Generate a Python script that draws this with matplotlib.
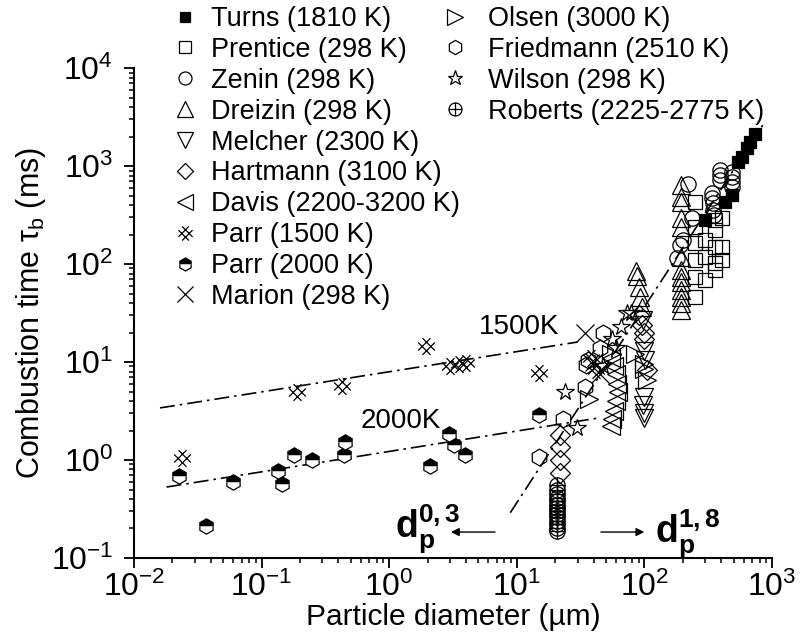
import numpy as np
import matplotlib
matplotlib.use("Agg")
import matplotlib.pyplot as plt
from matplotlib.path import Path
from matplotlib.lines import Line2D

plt.rcParams["font.family"] = ["Liberation Sans", "DejaVu Sans"]
plt.rcParams["mathtext.fontset"] = "custom"
plt.rcParams["mathtext.rm"] = "Liberation Sans"
plt.rcParams["mathtext.it"] = "Liberation Sans:italic"
plt.rcParams["mathtext.bf"] = "Liberation Sans:bold"

# ---- data (diameter in um, time in ms) ----
turns_d = [298, 428, 487, 541, 582, 637, 673, 736]
turns_t = [281, 429, 506, 1100, 1236, 1530, 1760, 2120]

prentice_d = [250, 250, 250, 250, 250, 250, 298, 298, 298, 355, 355, 355, 360, 360, 405, 405, 405]
prentice_t = [430, 240, 162, 110, 74, 46, 174, 117, 69, 282, 224, 148, 102, 87, 295, 148, 110]

zenin_d = [218, 235, 200, 190, 180, 340, 340, 345, 345, 350, 390, 390, 390, 490, 490, 490, 490]
zenin_t = [650, 295, 174, 155, 115, 525, 470, 420, 355, 316, 910, 810, 720, 870, 780, 690, 615]

dreizin_d = [195, 195, 195, 195, 195, 195, 195, 195, 195, 195, 195, 195, 195, 86, 88, 90, 92, 95]
dreizin_t = [646, 479, 427, 295, 240, 117, 87, 74, 65, 54, 46, 40, 34, 85, 75, 58, 46, 36]

melcher_d = [98, 100, 102, 100, 98, 100, 100]
melcher_t = [27, 13, 10.5, 4.4, 3.6, 3.0, 2.7]

hartmann_d = [22, 22, 22, 22, 90, 95, 100, 100, 105]
hartmann_t = [1.8, 1.36, 1.0, 0.74, 30, 24, 20, 17, 8.3]

davis_d = [55, 58, 60, 61, 62, 60, 58, 56, 55]
davis_t = [11, 9, 7.6, 6, 5, 4, 3.2, 2.6, 2.2]

parr1500_d = [0.024, 0.19, 0.43, 1.95, 3.0, 3.5, 4.0, 15, 38, 42]
parr1500_t = [1.05, 4.9, 5.7, 14.5, 9.2, 9.5, 9.8, 7.7, 11, 8.3]

parr2000_d = [0.0225, 0.037, 0.06, 0.135, 0.145, 0.18, 0.25, 0.44, 0.45, 2.1, 2.95, 3.2, 3.9, 15]
parr2000_t = [0.69, 0.21, 0.60, 0.78, 0.57, 1.12, 1.0, 1.12, 1.52, 0.87, 1.84, 1.42, 1.12, 2.9]

marion_d = [34, 40, 45]
marion_t = [20, 10, 7.5]

olsen_d = [37, 55, 85, 100, 100, 105]
olsen_t = [4.2, 12, 12, 9.5, 8.5, 6.6]

friedmann_d = [15, 23, 34, 35, 36, 45, 47]
friedmann_t = [1.07, 2.6, 5.6, 9.3, 10.5, 14, 20]

wilson_d = [24, 29.5, 47, 56, 60, 65, 73, 78]
wilson_t = [5, 2.1, 9, 17, 14, 23, 32, 32]

roberts_d = [20.5] * 14
roberts_t = [0.55, 0.5, 0.45, 0.41, 0.38, 0.35, 0.32, 0.3, 0.28, 0.26, 0.24, 0.22, 0.2, 0.19]

# fitted trend lines (end points)
fit1500_d = [0.016, 30]
fit1500_t = [3.4, 16]
fit2000_d = [0.018, 45]
fit2000_t = [0.53, 2.7]
fit_big_d = [8.9, 850]
fit_big_t = [0.29, 2630]

# ---- custom markers ----
# rotated "#" for Parr 1500 K
hv = []
hc = []
for c in (-0.35, 0.35):
    for (u0, v0, u1, v1) in ((c, -1, c, 1), (-1, c, 1, c)):
        hv += [((u0 - v0) / np.sqrt(2), (u0 + v0) / np.sqrt(2)),
               ((u1 - v1) / np.sqrt(2), (u1 + v1) / np.sqrt(2))]
        hc += [Path.MOVETO, Path.LINETO]
hatch_marker = Path(hv, hc)
# circle with plus for Roberts
oplus_marker = Path.make_compound_path(
    Path.unit_circle(),
    Path([[-1, 0], [1, 0], [0, -1], [0, 1]],
         [Path.MOVETO, Path.LINETO, Path.MOVETO, Path.LINETO]))

series1 = [
    (turns_d, turns_t, "Turns (1810 K)", dict(marker="s", ms=8, mfc="k")),
    (prentice_d, prentice_t, "Prentice (298 K)", dict(marker="s", ms=10)),
    (zenin_d, zenin_t, "Zenin (298 K)", dict(marker="o", ms=11)),
    (dreizin_d, dreizin_t, "Dreizin (298 K)", dict(marker="^", ms=13)),
    (melcher_d, melcher_t, "Melcher (2300 K)", dict(marker="v", ms=13)),
    (hartmann_d, hartmann_t, "Hartmann (3100 K)", dict(marker="D", ms=10)),
    (davis_d, davis_t, "Davis (2200-3200 K)", dict(marker="<", ms=13)),
    (parr1500_d, parr1500_t, "Parr (1500 K)", dict(marker=hatch_marker, ms=12)),
    (parr2000_d, parr2000_t, "Parr (2000 K)",
     dict(marker="h", ms=11, fillstyle="top", mfc="k", markerfacecoloralt="white")),
    (marion_d, marion_t, "Marion (298 K)", dict(marker="x", ms=13)),
]
series2 = [
    (olsen_d, olsen_t, "Olsen (3000 K)", dict(marker=">", ms=13)),
    (friedmann_d, friedmann_t, "Friedmann (2510 K)", dict(marker="h", ms=12)),
    (wilson_d, wilson_t, "Wilson (298 K)", dict(marker="*", ms=13)),
    (roberts_d, roberts_t, "Roberts (2225-2775 K)", dict(marker=oplus_marker, ms=11)),
]

fig = plt.figure(figsize=(8.07, 6.43), dpi=100)
ax = fig.add_axes([0.166, 0.1322, 0.7906, 0.762])

ls_dd = (0, (9, 3, 1.5, 3))
ax.plot(fit1500_d, fit1500_t, color="k", lw=1.2, ls=ls_dd)
ax.plot(fit2000_d, fit2000_t, color="k", lw=1.2, ls=ls_dd)
ax.plot(fit_big_d, fit_big_t, color="k", lw=1.2, ls=ls_dd)

handles1, handles2 = [], []
for group, handles in ((series1, handles1), (series2, handles2)):
    for d, t, lab, st in group:
        kw = dict(ls="none", mec="k", mew=0.9, mfc="none")
        kw.update(st)
        ax.plot(d, t, **kw)
        hkw = dict(kw)
        hkw["ms"] = st["ms"] * 0.85
        handles.append(Line2D([], [], label=lab, **hkw))

ax.set_xscale("log")
ax.set_yscale("log")
ax.set_xlim(1e-2, 1e3)
ax.set_ylim(1e-1, 1e4)
ax.spines["top"].set_visible(False)
ax.spines["right"].set_visible(False)
ax.spines["left"].set_linewidth(1.5)
ax.spines["bottom"].set_linewidth(1.5)
ax.tick_params(which="major", direction="out", length=7, width=1.3, labelsize=23)
ax.tick_params(which="minor", direction="out", length=3.6, width=1.1)
ax.tick_params(axis="y", which="major", pad=8)
ax.tick_params(axis="x", which="major", pad=3)

ax.set_xlabel("Particle diameter (µm)", fontsize=21.5, labelpad=0)
ax.set_ylabel(r"Combustion time τ$_\mathrm{b}$ (ms)", fontsize=22)
ax.yaxis.set_label_coords(-0.135, 0.5)

ax.text(10.5, 22.8, "1500K", fontsize=20, ha="center", va="center")
ax.text(1.23, 2.5, "2000K", fontsize=20, ha="center", va="center")
ax.text(2.0, 0.2, r"$\mathbf{d}_\mathbf{p}^\mathbf{0,3}$", fontsize=27, ha="center", va="center")
ax.text(218, 0.176, r"$\mathbf{d}_\mathbf{p}^\mathbf{1,8}$", fontsize=27, ha="center", va="center")
ax.annotate("", xy=(2.9, 0.184), xytext=(7.1, 0.184),
            arrowprops=dict(arrowstyle="-|>", color="k", lw=1, mutation_scale=12))
ax.annotate("", xy=(105, 0.184), xytext=(43.4, 0.184),
            arrowprops=dict(arrowstyle="-|>", color="k", lw=1, mutation_scale=12))

leg_kw = dict(loc="upper left", frameon=False, fontsize=19.5, borderpad=0,
              borderaxespad=0, handlelength=0.95, labelspacing=0.18,
              handletextpad=0.5, numpoints=1)
leg1 = fig.legend(handles=handles1, bbox_to_anchor=(172 / 807, 1 - 6 / 643), **leg_kw)
leg_kw["handletextpad"] = 0.75
leg2 = fig.legend(handles=handles2, bbox_to_anchor=(442 / 807, 1 - 6 / 643), **leg_kw)

fig.savefig("out.png", dpi=100)
